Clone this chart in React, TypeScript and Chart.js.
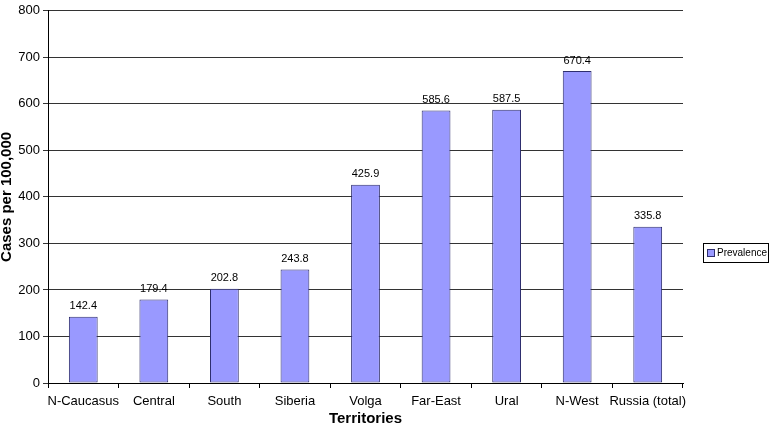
import React, { useEffect, useRef } from "react";
import { Chart, registerables } from "chart.js";

Chart.register(...registerables);

const categories = ["N-Caucasus", "Central", "South", "Siberia", "Volga", "Far-East", "Ural", "N-West", "Russia (total)"];
const prevalence = [142.4, 179.4, 202.8, 243.8, 425.9, 585.6, 587.5, 670.4, 335.8];
const seriesName = "Prevalence";
const yTitle = "Cases per 100,000";
const xTitle = "Territories";

const FONT = "'Liberation Sans', Arial, sans-serif";
const FILL = "#9999FF";
const EDGE = "#2E2E6E";

const valueLabels = {
  id: "valueLabels",
  afterDatasetsDraw(chart: any) {
    const ctx = chart.ctx;
    const meta = chart.getDatasetMeta(0);
    ctx.save();
    ctx.font = `11px ${FONT}`;
    ctx.fillStyle = "#000";
    ctx.textAlign = "center";
    ctx.textBaseline = "bottom";
    meta.data.forEach((bar: any, i: number) => {
      ctx.fillText(prevalence[i].toFixed(1), bar.x, bar.y - 5);
    });
    ctx.restore();
  },
};

const boxLegend = {
  id: "boxLegend",
  afterDraw(chart: any) {
    const ctx = chart.ctx;
    const x = 703, y = 243, w = 65, h = 19;
    ctx.save();
    ctx.strokeStyle = "#000";
    ctx.lineWidth = 1;
    ctx.strokeRect(x + 0.5, y + 0.5, w, h);
    ctx.fillStyle = FILL;
    ctx.fillRect(x + 4.5, y + 6.5, 7, 7);
    ctx.strokeStyle = EDGE;
    ctx.strokeRect(x + 4.5, y + 6.5, 7, 7);
    ctx.fillStyle = "#000";
    ctx.font = `10px ${FONT}`;
    ctx.textBaseline = "middle";
    ctx.textAlign = "left";
    ctx.fillText(seriesName, x + 14, y + h / 2 + 1);
    ctx.restore();
  },
};

export default function App() {
  const ref = useRef<HTMLCanvasElement>(null);
  useEffect(() => {
    document.body.style.margin = "0";
    const chart = new Chart(ref.current!, {
      type: "bar",
      data: {
        labels: categories,
        datasets: [
          {
            label: seriesName,
            data: prevalence,
            backgroundColor: FILL,
            borderColor: EDGE,
            borderWidth: 1,
            borderSkipped: false,
            categoryPercentage: 0.8,
            barPercentage: 0.51,
          },
        ],
      },
      options: {
        responsive: false,
        animation: false,
        layout: { padding: { top: 10, right: 90, left: 0, bottom: 0 } },
        plugins: { legend: { display: false }, tooltip: { enabled: false } },
        scales: {
          x: {
            offset: true,
            grid: { offset: true, drawOnChartArea: false, drawTicks: true, tickLength: 5, color: "#000" },
            border: { color: "#000", width: 1 },
            ticks: { color: "#000", font: { family: FONT, size: 13 }, padding: 6, maxRotation: 0, autoSkip: false },
            title: { display: true, text: xTitle, color: "#000", font: { family: FONT, size: 15, weight: "bold" }, padding: { top: 0, bottom: -3 } },
            afterFit(scale: any) { scale.height = 42; },
          },
          y: {
            min: 0,
            max: 800,
            ticks: { stepSize: 100, color: "#000", font: { family: FONT, size: 13 }, padding: 3 },
            grid: { color: "#333", tickLength: 5, drawTicks: true },
            border: { color: "#000", width: 1 },
            title: { display: true, text: yTitle, color: "#000", font: { family: FONT, size: 15, weight: "bold" }, padding: { top: -2, bottom: 0 } },
            afterFit(scale: any) { scale.width = 48; },
          },
        },
      },
      plugins: [valueLabels, boxLegend],
    });
    return () => chart.destroy();
  }, []);
  return <canvas ref={ref} width={773} height={425} style={{ display: "block" }} />;
}
